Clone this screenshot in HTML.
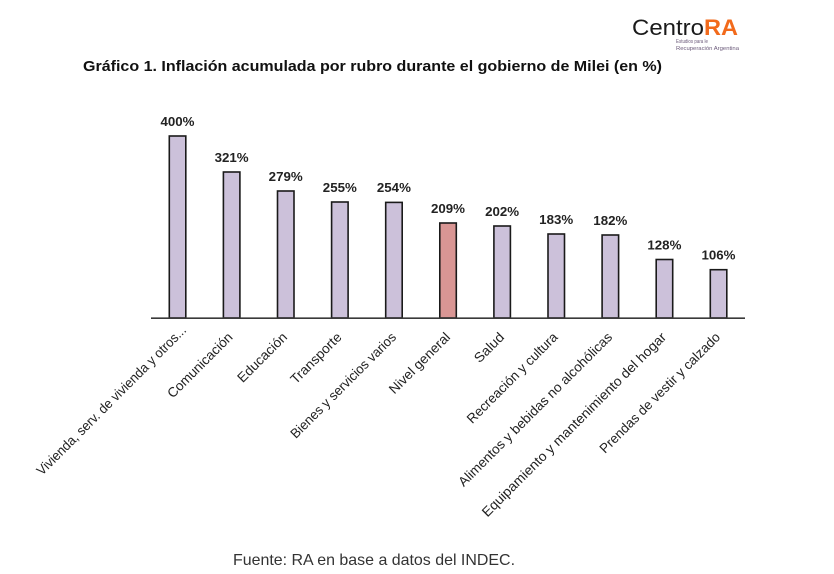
<!DOCTYPE html>
<html>
<head>
<meta charset="utf-8">
<style>
  html, body { margin:0; padding:0; background:#fff; }
  svg { display:block; }
  text { font-family: "Liberation Sans", "DejaVu Sans", sans-serif; }
</style>
</head>
<body>
<svg width="834" height="574" viewBox="0 0 834 574" xmlns="http://www.w3.org/2000/svg">
  <rect x="0" y="0" width="834" height="574" fill="#ffffff"/>

  <!-- Logo -->
  <text x="632" y="35" font-size="22" fill="#1a1a1a" textLength="72" lengthAdjust="spacingAndGlyphs">Centro</text>
  <text x="704" y="35" font-size="22" font-weight="bold" fill="#f26a1b" textLength="34" lengthAdjust="spacingAndGlyphs">RA</text>
  <text x="676" y="43" font-size="5" fill="#6b5a7a" textLength="32" lengthAdjust="spacingAndGlyphs">Estudios para le</text>
  <text x="676" y="50" font-size="5" fill="#6b5a7a" textLength="63" lengthAdjust="spacingAndGlyphs">Recuperación Argentina</text>

  <!-- Title -->
  <text x="83" y="71" font-size="15" font-weight="bold" fill="#111" textLength="579" lengthAdjust="spacingAndGlyphs">Gráfico 1. Inflación acumulada por rubro durante el gobierno de Milei (en %)</text>

  <!-- Bars -->
  <g stroke="#1a1a1a" stroke-width="1.6">
    <rect x="169.3" y="136" width="16.5" height="182" fill="#ccc1da"/>
    <rect x="223.4" y="172" width="16.5" height="146" fill="#ccc1da"/>
    <rect x="277.5" y="191" width="16.5" height="127" fill="#ccc1da"/>
    <rect x="331.6" y="202" width="16.5" height="116" fill="#ccc1da"/>
    <rect x="385.7" y="202.4" width="16.5" height="115.6" fill="#ccc1da"/>
    <rect x="439.8" y="223" width="16.5" height="95" fill="#d99694"/>
    <rect x="493.9" y="226" width="16.5" height="92" fill="#ccc1da"/>
    <rect x="548.0" y="234" width="16.5" height="84" fill="#ccc1da"/>
    <rect x="602.1" y="235" width="16.5" height="83" fill="#ccc1da"/>
    <rect x="656.2" y="259.5" width="16.5" height="58.5" fill="#ccc1da"/>
    <rect x="710.3" y="269.7" width="16.5" height="48.3" fill="#ccc1da"/>
  </g>

  <!-- Axis -->
  <line x1="151" y1="318.2" x2="745" y2="318.2" stroke="#3a3a3a" stroke-width="1.6"/>

  <!-- Value labels -->
  <g font-size="13" font-weight="bold" fill="#222" text-anchor="middle">
    <text x="177.5" y="126" textLength="34" lengthAdjust="spacingAndGlyphs">400%</text>
    <text x="231.6" y="162" textLength="34" lengthAdjust="spacingAndGlyphs">321%</text>
    <text x="285.7" y="181" textLength="34" lengthAdjust="spacingAndGlyphs">279%</text>
    <text x="339.8" y="192" textLength="34" lengthAdjust="spacingAndGlyphs">255%</text>
    <text x="393.9" y="192" textLength="34" lengthAdjust="spacingAndGlyphs">254%</text>
    <text x="448.0" y="213" textLength="34" lengthAdjust="spacingAndGlyphs">209%</text>
    <text x="502.1" y="216" textLength="34" lengthAdjust="spacingAndGlyphs">202%</text>
    <text x="556.2" y="224" textLength="34" lengthAdjust="spacingAndGlyphs">183%</text>
    <text x="610.3" y="225" textLength="34" lengthAdjust="spacingAndGlyphs">182%</text>
    <text x="664.4" y="249.5" textLength="34" lengthAdjust="spacingAndGlyphs">128%</text>
    <text x="718.5" y="259.7" textLength="34" lengthAdjust="spacingAndGlyphs">106%</text>
  </g>

  <!-- Category labels (rotated -45) -->
  <g font-size="13.5" fill="#222" text-anchor="end">
    <text x="187" y="331" transform="rotate(-45 187 331)" textLength="205" lengthAdjust="spacingAndGlyphs">Vivienda, serv. de vivienda y otros...</text>
    <text x="233.5" y="338" transform="rotate(-45 233.5 338)" textLength="86" lengthAdjust="spacingAndGlyphs">Comunicación</text>
    <text x="288" y="338" transform="rotate(-45 288 338)" textLength="64" lengthAdjust="spacingAndGlyphs">Educación</text>
    <text x="342.5" y="338" transform="rotate(-45 342.5 338)" textLength="66" lengthAdjust="spacingAndGlyphs">Transporte</text>
    <text x="397" y="338" transform="rotate(-45 397 338)" textLength="143" lengthAdjust="spacingAndGlyphs">Bienes y servicios varios</text>
    <text x="451" y="338" transform="rotate(-45 451 338)" textLength="80" lengthAdjust="spacingAndGlyphs">Nivel general</text>
    <text x="505" y="338" transform="rotate(-45 505 338)" textLength="36" lengthAdjust="spacingAndGlyphs">Salud</text>
    <text x="558.5" y="338" transform="rotate(-45 558.5 338)" textLength="122" lengthAdjust="spacingAndGlyphs">Recreación y cultura</text>
    <text x="613" y="338" transform="rotate(-45 613 338)" textLength="211" lengthAdjust="spacingAndGlyphs">Alimentos y bebidas no alcohólicas</text>
    <text x="667" y="338" transform="rotate(-45 667 338)" textLength="254" lengthAdjust="spacingAndGlyphs">Equipamiento y mantenimiento del hogar</text>
    <text x="721" y="338" transform="rotate(-45 721 338)" textLength="164" lengthAdjust="spacingAndGlyphs">Prendas de vestir y calzado</text>
  </g>

  <!-- Source -->
  <text x="233" y="565" font-size="16" fill="#333" textLength="282" lengthAdjust="spacingAndGlyphs">Fuente: RA en base a datos del INDEC.</text>
</svg>
</body>
</html>
